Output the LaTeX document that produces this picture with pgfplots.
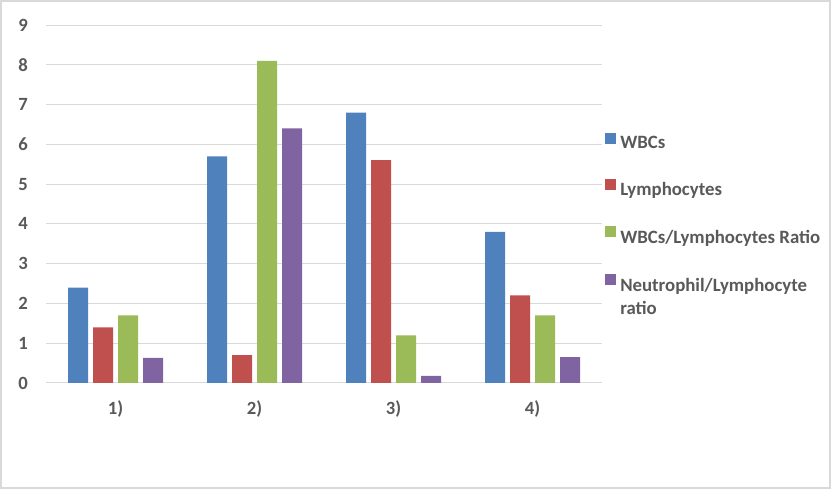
\documentclass[border=0pt]{standalone}
\usepackage{fontspec}
\setmainfont{Carlito}
\usepackage{pgfplots}
\pgfplotsset{compat=1.18}
\definecolor{cblue}{HTML}{4F81BD}
\definecolor{cred}{HTML}{C0504D}
\definecolor{cgreen}{HTML}{9BBB59}
\definecolor{cpurple}{HTML}{8064A2}
\definecolor{textc}{HTML}{595959}
\definecolor{gridc}{HTML}{D9D9D9}
\begin{document}
\begin{tikzpicture}
\path[use as bounding box] (0,0) rectangle (623.25pt,366.75pt);
\draw[gridc, line width=1.5pt] (0.75pt,0.75pt) rectangle (622.5pt,366pt);
\begin{axis}[
  at={(34.5pt,79.5pt)}, anchor=south west,
  scale only axis, width=417pt, height=268.5pt,
  ybar=3.75pt, bar width=15pt,
  xmin=-0.5, xmax=3.5, ymin=0, ymax=9,
  xtick={0,1,2,3}, xticklabels={1),2),3),4)},
  ytick={0,1,...,9},
  major tick length=0pt,
  axis line style={draw=none},
  ymajorgrids, grid style={gridc, line width=0.75pt},
  /pgf/number format/assume math mode=true,
  tick label style={font=\bfseries\fontsize{14}{16.8}\selectfont, text=textc},
  yticklabel style={anchor=east, inner sep=0pt, xshift=-13.5pt},
  xticklabel style={anchor=north, inner sep=0pt, yshift=-13pt},
  legend cell align=left,
  legend image code/.code={\draw[#1,draw=none] (0pt,0pt) rectangle (8.25pt,8.25pt);},
  legend style={at={(1.0054,0.700)}, anchor=north west, draw=none, fill=none,
    inner sep=0pt, row sep=21.4pt, column sep=3pt,
    font=\bfseries\fontsize{14.1}{16.9}\selectfont, text=textc,
    nodes={inner sep=0pt}},
]
\addplot[fill=cblue, draw=none] coordinates {(0,2.4) (1,5.7) (2,6.8) (3,3.8)};
\addplot[fill=cred, draw=none] coordinates {(0,1.4) (1,0.7) (2,5.6) (3,2.2)};
\addplot[fill=cgreen, draw=none] coordinates {(0,1.7) (1,8.1) (2,1.2) (3,1.7)};
\addplot[fill=cpurple, draw=none] coordinates {(0,0.63) (1,6.4) (2,0.18) (3,0.65)};
\legend{WBCs, Lymphocytes, WBCs/Lymphocytes Ratio, {\begin{tabular}[t]{@{}l@{}}Neutrophil/Lymphocyte\\[0.5pt]ratio\end{tabular}}}
\end{axis}
\end{tikzpicture}
\end{document}
